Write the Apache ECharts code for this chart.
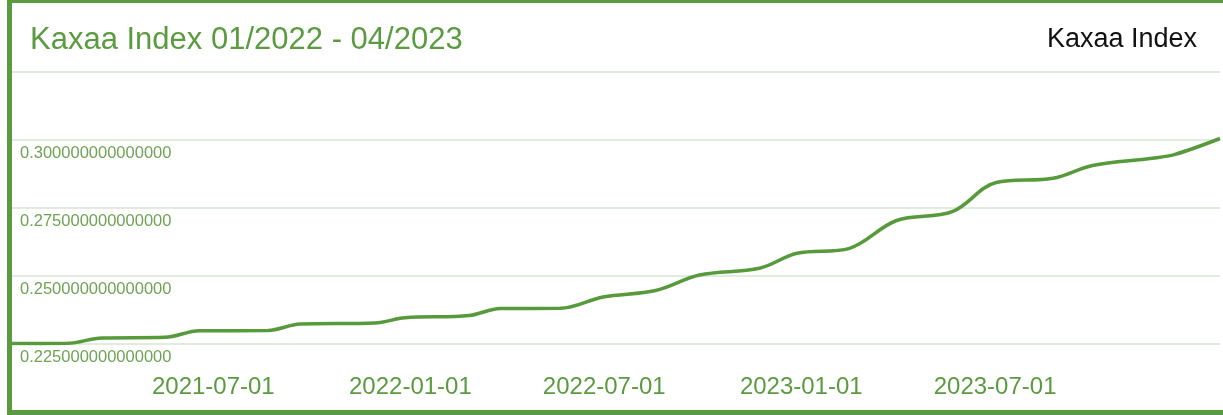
<!DOCTYPE html>
<html>
<head>
<meta charset="utf-8">
<title>Kaxaa Index</title>
<script src="https://cdn.jsdelivr.net/npm/echarts@6/dist/echarts.min.js"></script>
<style>
  html, body { margin: 0; padding: 0; background: #fff; }
  #chart { width: 1223px; height: 415px; }
</style>
</head>
<body>
<div id="chart"></div>
<script>
// series (date, index value)
var dates = [
	'2020-12-25', '2021-02-15', '2021-03-19', '2021-05-17', '2021-06-18', '2021-08-21',
	'2021-09-20', '2021-11-29', '2021-12-27', '2022-02-25', '2022-03-26', '2022-05-21',
	'2022-06-30', '2022-08-18', '2022-09-28', '2022-11-23', '2022-12-28', '2023-02-15',
	'2023-03-31', '2023-05-22', '2023-07-02', '2023-08-24', '2023-09-30', '2023-11-25',
	'2023-12-16', '2024-01-27'
];
var values = [
	0.22518, 0.22526, 0.22721, 0.22746, 0.22985, 0.22996,
	0.23235, 0.23272, 0.23463, 0.23548, 0.23805, 0.23813,
	0.24228, 0.24467, 0.25037, 0.25283, 0.25835, 0.26018,
	0.27040, 0.27364, 0.28438, 0.28592, 0.29063, 0.29327,
	0.29470, 0.30055
];
var xTicks = ['2021-07-01', '2022-01-01', '2022-07-01', '2023-01-01', '2023-07-01'];
var yTicks = [0.225, 0.25, 0.275, 0.3];

var seriesName = 'Kaxaa Index';
var titleText = 'Kaxaa Index 01/2022 - 04/2023';

var green = '#5b9b40';

var myChart = echarts.init(document.getElementById('chart'));

function ts(s) {
	return echarts.time.parse(s).getTime();
}

var points = [];
for (var i = 0; i < dates.length; i++) {
	points.push([ts(dates[i]), values[i]]);
}

var option = {
	backgroundColor: '#fff',
	animation: false,
	title: {
		text: titleText,
		left: 30,
		top: 25,
		padding: 0,
		textStyle: {
			color: green,
			fontFamily: 'Liberation Sans, Arial, sans-serif',
			fontWeight: 'normal',
			fontSize: 31,
			lineHeight: 31
		}
	},
	legend: {
		data: [seriesName],
		right: 26,
		top: 26,
		padding: 0,
		icon: 'none',
		itemWidth: 0,
		itemHeight: 27,
		textStyle: {
			color: '#111',
			fontFamily: 'Liberation Sans, Arial, sans-serif',
			fontSize: 27,
			padding: [0, 0, 0, -5]
		}
	},
	grid: {
		left: 12,
		right: 3,
		top: 72,
		bottom: 71
	},
	xAxis: {
		// dates as timestamps on a value axis so the labels can sit on the listed days
		type: 'value',
		min: ts(dates[0]),
		max: ts(dates[dates.length - 1]),
		axisLine: { show: false },
		axisTick: { show: false },
		splitLine: { show: false },
		axisLabel: {
			customValues: xTicks.map(ts),
			margin: 31,
			color: green,
			fontFamily: 'Liberation Sans, Arial, sans-serif',
			fontSize: 24,
			formatter: function(v) {
				return echarts.time.format(v, '{yyyy}-{MM}-{dd}', false);
			}
		}
	},
	yAxis: {
		type: 'value',
		min: 0.225,
		max: 0.325,
		interval: 0.025,
		axisLine: { show: false },
		axisTick: { show: false },
		splitLine: {
			lineStyle: { color: '#d9e6d3', width: 1.5 }
		},
		axisLabel: {
			inside: true,
			margin: 8,
			verticalAlign: 'top',
			padding: [5, 0, 0, 0],
			color: '#6ea354',
			fontFamily: 'Liberation Sans, Arial, sans-serif',
			fontSize: 16.5,
			formatter: function(v) {
				// only the listed ticks get a label, the top line stays bare
				for (var k = 0; k < yTicks.length; k++) {
					if (Math.abs(v - yTicks[k]) < 1e-9) return yTicks[k].toFixed(15);
				}
				return '';
			}
		}
	},
	graphic: [
		// frame around the panel: top, left, bottom
		{ type: 'rect', shape: { x: 7, y: 0, width: 1216, height: 3 }, style: { fill: green }, z: 100 },
		{ type: 'rect', shape: { x: 7, y: 0, width: 5, height: 415 }, style: { fill: green }, z: 100 },
		{ type: 'rect', shape: { x: 7, y: 410, width: 1216, height: 5 }, style: { fill: green }, z: 100 }
	],
	series: [
		{
			name: seriesName,
			type: 'line',
			data: points,
			smooth: 0.35,
			showSymbol: false,
			symbol: 'none',
			lineStyle: { color: '#579a3b', width: 3.5 },
			itemStyle: { color: '#579a3b' }
		}
	]
};

myChart.setOption(option);
</script>
</body>
</html>
